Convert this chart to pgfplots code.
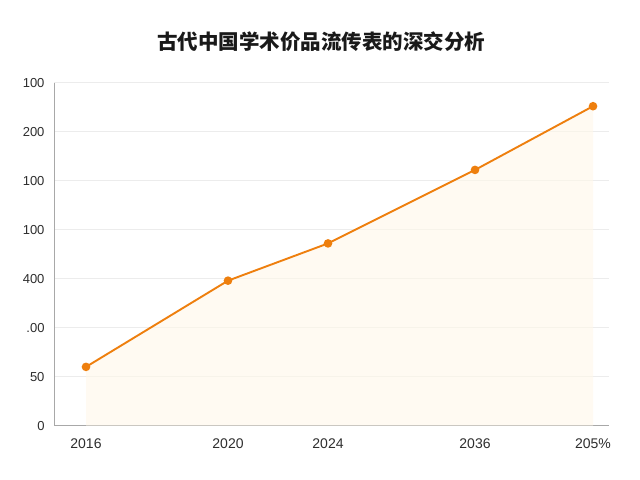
\documentclass[border=0pt]{standalone}
\usepackage{pgfplots}
\pgfplotsset{compat=1.18}
\usepackage{fontspec}
\setmainfont{Liberation Sans}
\newfontfamily\cjk{Noto Sans CJK SC}
\definecolor{lineor}{HTML}{EE7F0E}
\definecolor{fillc}{HTML}{FFF8EA}
\definecolor{gridc}{HTML}{ECECEC}
\definecolor{spinec}{HTML}{A8A8A8}
\definecolor{tickc}{HTML}{2E2E2E}
\begin{document}
\begin{tikzpicture}[x=1bp,y=1bp]
\path[use as bounding box, fill=white] (0,0) rectangle (640,480);
\node[font={\cjk\bfseries\fontsize{20.5bp}{24bp}\selectfont}, text=black!90] at (321,438) {古代中国学术价品流传表的深交分析};
\begin{axis}[
  at={(54bp,54.3bp)}, anchor=origin,
  scale only axis,
  width=555bp, height=343bp,
  xmin=0, xmax=555,
  ymin=0, ymax=350,
  axis lines*=left,
  axis line style={spinec, line width=0.9bp},
  ymajorgrids,
  grid style={gridc, line width=0.8bp},
  ytick={0,50,100,150,200,250,300,350},
  yticklabels={0,50,.00,400,100,100,200,100},
  xtick={32,174,274,421,539},
  xticklabels={2016,2020,2024,2036,205\%},
  tick style={draw=none},
  yticklabel style={font=\fontsize{13bp}{15bp}\selectfont, text=tickc, xshift=-6bp},
  xticklabel style={font=\fontsize{14bp}{16bp}\selectfont, text=tickc, yshift=-10bp},
  /pgf/number format/assume math mode=true,
  clip=false,
]
\addplot[draw=none, fill=fillc, fill opacity=0.6] coordinates {(32,0) (32,60) (174,148) (274,186) (421,261) (539,326) (539,0)} \closedcycle;
\addplot[lineor, line width=1.9bp, mark=*, mark size=3.3bp, mark options={fill=lineor, draw=lineor}] coordinates {
(32,60) (174,148) (274,186) (421,261) (539,326)};
\end{axis}
\end{tikzpicture}
\end{document}
